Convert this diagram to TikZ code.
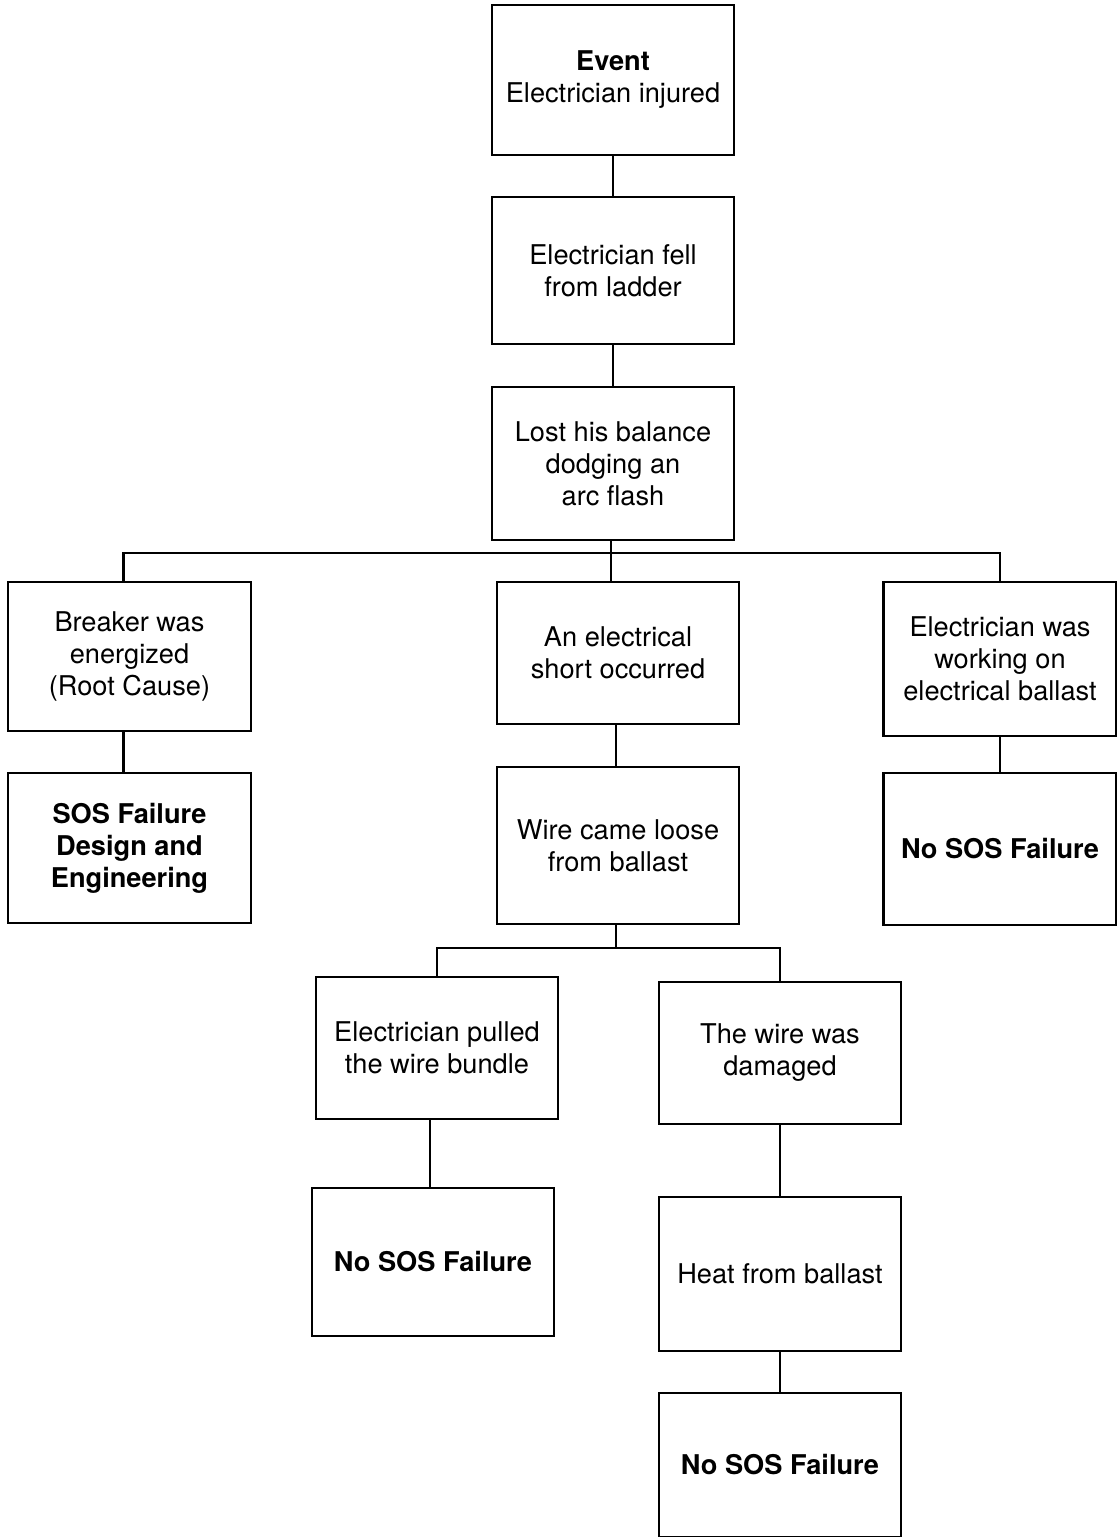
\documentclass[tikz,border=0pt]{standalone}
\usepackage{fontspec}
\setmainfont{TeX Gyre Heros}
\begin{document}
\begin{tikzpicture}[x=0.5pt, y=-0.5pt, line width=1.3pt,
  causebox/.style={rectangle, draw=black, align=center, inner sep=2pt, minimum width=121pt, font=\fontsize{13.6}{16}\selectfont}]
\useasboundingbox (0,0) rectangle (1117,1537);
% chain from the event down
\node[causebox, minimum height=75pt] (event) at (613,80) {\textbf{Event}\\Electrician injured};
\node[causebox, minimum height=73.5pt] (fell) at (613,270.5) {Electrician fell\\from ladder};
\node[causebox, minimum height=76.5pt] (lost) at (613,463.5) {Lost his balance\\dodging an\\arc flash};
% first row of causes
\node[causebox, minimum width=121.5pt, minimum height=74.5pt] (breaker) at (129.5,656.5) {Breaker was\\energized\\(Root Cause)};
\node[causebox, minimum height=71pt] (short) at (618,653) {An electrical\\short occurred};
\node[causebox, minimum width=116.5pt, minimum height=77pt] (working) at (1000,659) {Electrician was\\working on\\electrical ballast};
\node[causebox, minimum width=121.5pt, minimum height=75pt] (sosdesign) at (129.5,848) {\textbf{SOS Failure}\\\textbf{Design and}\\\textbf{Engineering}};
\node[causebox, minimum height=78.5pt] (wire) at (618,845.5) {Wire came loose\\from ballast};
\node[causebox, minimum width=116.5pt, minimum height=76pt] (nosworking) at (1000,849) {\textbf{No SOS Failure}};
% second row of causes
\node[causebox, minimum height=71pt] (pulled) at (437,1048) {Electrician pulled\\the wire bundle};
\node[causebox, minimum height=71pt] (damaged) at (780,1053) {The wire was\\damaged};
\node[causebox, minimum height=74pt] (nospulled) at (433,1262) {\textbf{No SOS Failure}};
\node[causebox, minimum height=77pt] (heat) at (780,1274) {Heat from ballast};
\node[causebox, minimum height=72pt] (nosheat) at (780,1465) {\textbf{No SOS Failure}};
% connectors
\coordinate (busa) at (611,553);
\coordinate (busb) at (616,948);
\draw (event) -- (fell);
\draw (fell) -- (lost);
\draw (lost.south -| busa) -- (busa);
\draw ([xshift=-3pt]breaker.north) |- (busa) -| (working.north);
\draw (busa) -- (short.north -| busa);
\draw (short.south -| busb) -- (wire.north -| busb);
\draw (wire.south -| busb) -- (busb);
\draw (pulled.north) |- (busb) -| (damaged.north);
\draw ([xshift=-3pt]breaker.south) -- ([xshift=-3pt]sosdesign.north);
\draw (working) -- (nosworking);
\draw (nospulled.north -| 430,0) -- (pulled.south -| 430,0);
\draw (damaged) -- (heat);
\draw (heat) -- (nosheat);
\end{tikzpicture}
\end{document}
